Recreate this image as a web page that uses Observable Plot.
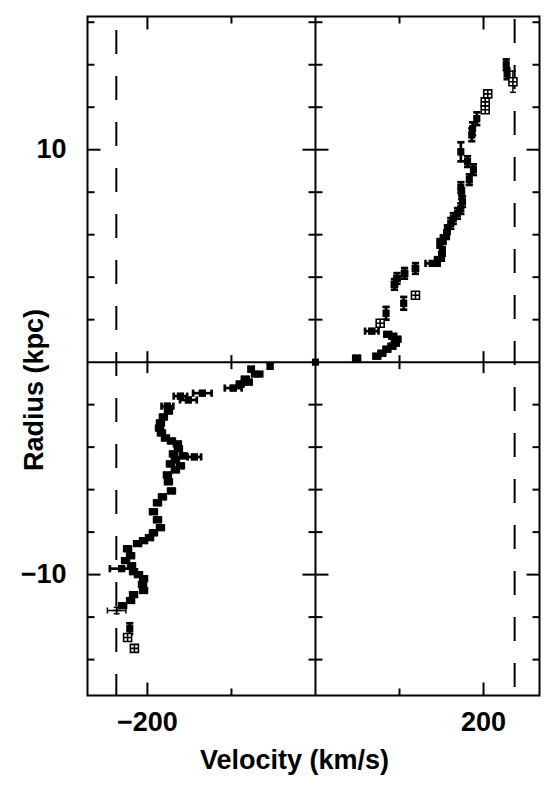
<!DOCTYPE html>
<html><head><meta charset="utf-8">
<script src="https://cdn.jsdelivr.net/npm/d3@7"></script>
<script src="https://cdn.jsdelivr.net/npm/@observablehq/plot@0.6"></script>
<style>html,body{margin:0;padding:0;background:#fff}</style>
</head><body><div id="chart"></div>
<script>
// Receding side (positive velocities, positive radii)
const recV = [0, 49, 73, 79, 85, 91, 95, 97, 92, 86, 67, 77, 84, 105, 119, 94, 97, 106, 119, 139, 145, 150, 151, 148, 152, 156, 157, 161, 164, 169, 173, 175, 174, 173, 183, 188, 181, 173, 186, 187, 192, 202, 202, 205, 228, 227, 235];
const recR = [0, 0.19, 0.28, 0.42, 0.61, 0.75, 0.89, 1.08, 1.22, 1.31, 1.46, 1.83, 2.3, 2.77, 3.15, 3.66, 3.94, 4.18, 4.41, 4.65, 4.74, 4.98, 5.21, 5.59, 5.77, 6.0, 6.24, 6.53, 6.76, 7.0, 7.23, 7.56, 7.93, 8.22, 8.59, 9.06, 9.44, 9.9, 10.7, 10.99, 11.46, 11.88, 12.25, 12.63, 13.57, 14.0, 13.2];
const recVErr = [0, 4, 4, 4, 4, 4, 4, 4, 4, 4, 8, 0, 2, 2, 0, 3, 3, 3, 3, 8, 2, 2, 2, 2, 2, 2, 2, 2, 2, 2, 2, 2, 2, 2, 2, 2, 2, 2, 2, 2, 2, 0, 0, 0, 2, 2, 0];
const recRErr = [0, 0.1, 0.1, 0.1, 0.1, 0.1, 0.1, 0.1, 0.1, 0.1, 0.1, 0, 0.3, 0.3, 0, 0.25, 0.25, 0.25, 0.25, 0.1, 0.2, 0.2, 0.2, 0.2, 0.2, 0.2, 0.2, 0.25, 0.25, 0.25, 0.25, 0.25, 0.25, 0.25, 0.25, 0.25, 0.25, 0.45, 0.3, 0.3, 0.3, 0, 0, 0, 0.25, 0.25, 0.5];
const recKind = ["f","f","f","f","f","f","f","f","f","f","f","o","f","f","o","f","f","f","f","f","f","f","f","f","f","f","f","f","f","f","f","f","f","f","f","f","f","f","f","f","f","o","o","o","f","f","o"];

// Approaching side (negative velocities, negative radii)
const appV = [-54, -76.5, -69.4, -83.6, -80, -89.6, -97.9, -134.6, -160.7, -151.2, -176.2, -175, -181, -184.5, -185.6, -183.3, -178.5, -171.4, -164.3, -163.1, -169, -144.1, -157.2, -166.7, -172.6, -160.7, -166.7, -176.2, -175, -171.4, -182.1, -188, -192.8, -188, -184.5, -192.8, -197.5, -204.6, -211.7, -223.6, -220, -226, -218.9, -230.7, -216.5, -210.6, -204.6, -205.8, -204.6, -216.5, -220, -229.5, -236.6, -221, -223.6, -215.5];
const appR = [-0.19, -0.33, -0.56, -0.8, -0.94, -1.03, -1.22, -1.46, -1.6, -1.78, -2.07, -2.3, -2.58, -2.86, -3.1, -3.33, -3.57, -3.71, -3.85, -4.08, -4.32, -4.46, -4.41, -4.6, -4.79, -4.88, -5.07, -5.31, -5.63, -6.06, -6.34, -6.62, -7.04, -7.42, -7.79, -8.03, -8.26, -8.4, -8.54, -8.78, -9.11, -9.34, -9.58, -9.72, -9.86, -10.0, -10.19, -10.47, -10.75, -10.94, -11.22, -11.46, -11.69, -12.54, -12.96, -13.47];
const appVErr = [2, 3, 6, 4, 4, 4, 10, 11, 8, 10, 7, 4, 4, 4, 4, 4, 4, 4, 4, 4, 4, 8, 4, 4, 4, 4, 4, 4, 4, 4, 4, 4, 4, 4, 4, 4, 4, 4, 4, 4, 4, 4, 4, 14, 4, 4, 4, 4, 4, 4, 4, 4, 11, 0, 0, 0];
const appRErr = [0.1, 0.1, 0.1, 0.1, 0.1, 0.1, 0.1, 0.1, 0.1, 0.1, 0.1, 0.1, 0.1, 0.1, 0.1, 0.1, 0.1, 0.1, 0.1, 0.1, 0.1, 0.1, 0.1, 0.1, 0.1, 0.1, 0.1, 0.1, 0.1, 0.1, 0.1, 0.1, 0.1, 0.1, 0.1, 0.1, 0.1, 0.1, 0.1, 0.1, 0.1, 0.1, 0.1, 0.1, 0.1, 0.1, 0.1, 0.1, 0.1, 0.1, 0.1, 0.1, 0.15, 0.25, 0, 0];
const appKind = ["f","f","f","f","f","f","f","f","f","f","f","f","f","f","f","f","f","f","f","f","f","f","f","f","f","f","f","f","f","f","f","f","f","f","f","f","f","f","f","f","f","f","f","f","f","f","f","f","f","f","f","f","c","f","o","o"];

// Reference (dashed) velocities
const dashLeft = [-237];
const dashRight = [237];

// Ticks and labels
const xMajor = [-200, 200];
const xMinor = [-100, 100];
const xTickLabels = ["\u2212200", "200"];
const yMajor = [-10, 10];
const yMinor = [-14, -12, -8, -6, -4, -2, 2, 4, 6, 8, 12, 14, 16];
const yTickLabels = ["\u221210", "10"];
const xTitle = "Velocity (km/s)";
const yTitle = "Radius (kpc)";

const rows = (V, R, VE, RE, K) => V.map((v, i) => ({v, r: R[i], ve: VE[i], re: RE[i], k: K[i]}));
const all = rows(recV, recR, recVErr, recRErr, recKind).concat(rows(appV, appR, appVErr, appRErr, appKind));

const seg = (x1, y1, x2, y2) => ({draw(c) { c.moveTo(x1, y1); c.lineTo(x2, y2); }});
const boxPlus = {draw(c) {
  const h = 4;
  c.moveTo(-h, -h); c.lineTo(h, -h); c.lineTo(h, h); c.lineTo(-h, h); c.closePath();
  c.moveTo(0, -h); c.lineTo(0, h); c.moveTo(-h, 0); c.lineTo(h, 0);
}};
const plus = {draw(c) { c.moveTo(-4, 0); c.lineTo(4, 0); c.moveTo(0, -4); c.lineTo(0, 4); }};

const MAJ = 13, MIN = 7;
const tk = {fill: "none", stroke: "black", strokeWidth: 2};
const font = {fontFamily: "Liberation Sans, Arial, Helvetica, sans-serif", fontWeight: "bold", fontSize: 27, fill: "black"};

const thick = all.filter(d => d.k === "f");
const thin = all.filter(d => d.k !== "f");
const bars = (data, sw, cap) => [
  Plot.ruleY(data.filter(d => d.ve > 0), {y: "r", x1: d => d.v - d.ve, x2: d => d.v + d.ve, stroke: "black", strokeWidth: sw}),
  Plot.dot(data.filter(d => d.ve > 0), {x: d => d.v - d.ve, y: "r", symbol: seg(0, -cap, 0, cap), fill: "none", stroke: "black", strokeWidth: sw}),
  Plot.dot(data.filter(d => d.ve > 0), {x: d => d.v + d.ve, y: "r", symbol: seg(0, -cap, 0, cap), fill: "none", stroke: "black", strokeWidth: sw}),
  Plot.ruleX(data.filter(d => d.re > 0), {x: "v", y1: d => d.r - d.re, y2: d => d.r + d.re, stroke: "black", strokeWidth: sw}),
  Plot.dot(data.filter(d => d.re > 0), {x: "v", y: d => d.r - d.re, symbol: seg(-cap, 0, cap, 0), fill: "none", stroke: "black", strokeWidth: sw}),
  Plot.dot(data.filter(d => d.re > 0), {x: "v", y: d => d.r + d.re, symbol: seg(-cap, 0, cap, 0), fill: "none", stroke: "black", strokeWidth: sw})
];

const chart = Plot.plot({
  width: 553,
  height: 795,
  marginTop: 16,
  marginRight: 14,
  marginBottom: 100,
  marginLeft: 87,
  x: {domain: [-271.3, 266.6], axis: null},
  y: {domain: [-15.69, 16.27], axis: null},
  marks: [
    Plot.ruleX(dashLeft, {x: d => d, insetTop: 14, stroke: "black", strokeWidth: 2, strokeDasharray: "24,22"}),
    Plot.ruleX(dashRight, {x: d => d, insetTop: 3, stroke: "black", strokeWidth: 2, strokeDasharray: "24,22"}),
    Plot.frame({stroke: "black", strokeWidth: 2}),
    Plot.ruleX([0], {stroke: "black", strokeWidth: 2}),
    Plot.ruleY([0], {stroke: "black", strokeWidth: 2}),
    // y ticks
    Plot.dot(yMinor, {y: d => d, frameAnchor: "left", symbol: seg(0, 0, MIN, 0), ...tk}),
    Plot.dot(yMajor, {y: d => d, frameAnchor: "left", symbol: seg(0, 0, MAJ, 0), ...tk}),
    Plot.dot(yMinor, {y: d => d, frameAnchor: "right", symbol: seg(0, 0, -MIN, 0), ...tk}),
    Plot.dot(yMajor, {y: d => d, frameAnchor: "right", symbol: seg(0, 0, -MAJ, 0), ...tk}),
    Plot.dot(yMinor, {x: () => 0, y: d => d, symbol: seg(-MIN, 0, MIN, 0), ...tk}),
    Plot.dot(yMajor, {x: () => 0, y: d => d, symbol: seg(-MAJ, 0, MAJ, 0), ...tk}),
    // x ticks
    Plot.dot(xMinor, {x: d => d, frameAnchor: "top", symbol: seg(0, 0, 0, MIN), ...tk}),
    Plot.dot(xMajor, {x: d => d, frameAnchor: "top", symbol: seg(0, 0, 0, MAJ), ...tk}),
    Plot.dot(xMinor, {x: d => d, frameAnchor: "bottom", symbol: seg(0, 0, 0, -MIN), ...tk}),
    Plot.dot(xMajor, {x: d => d, frameAnchor: "bottom", symbol: seg(0, 0, 0, -MAJ), ...tk}),
    Plot.dot(xMinor, {x: d => d, y: () => 0, symbol: seg(0, -MIN, 0, MIN), ...tk}),
    Plot.dot(xMajor, {x: d => d, y: () => 0, symbol: seg(0, -MAJ + 2, 0, MAJ - 2), ...tk}),
    // data
    ...bars(thick, 2.7, 3.6),
    ...bars(thin, 1.5, 3),
    Plot.dot(thick, {x: "v", y: "r", symbol: "square", r: 4, fill: "black", stroke: "none"}),
    Plot.dot(thin.filter(d => d.k === "o"), {x: "v", y: "r", symbol: boxPlus, fill: "white", stroke: "black", strokeWidth: 1.6}),
    Plot.dot(thin.filter(d => d.k === "c"), {x: "v", y: "r", symbol: plus, fill: "none", stroke: "black", strokeWidth: 1.6}),
    // labels
    Plot.text(xMajor, {x: d => d, text: (d, i) => xTickLabels[i], frameAnchor: "bottom", dy: 35, ...font}),
    Plot.text(yMajor, {y: d => d, text: (d, i) => yTickLabels[i], frameAnchor: "left", dx: -21, textAnchor: "end", ...font}),
    Plot.text([xTitle], {text: d => d, frameAnchor: "bottom", dx: -19, dy: 73, textAnchor: "middle", ...font}),
    Plot.text([yTitle], {text: d => d, frameAnchor: "left", rotate: -90, dx: -53, dy: 34, textAnchor: "middle", ...font})
  ]
});
document.getElementById("chart").append(chart);
</script>
</body></html>
